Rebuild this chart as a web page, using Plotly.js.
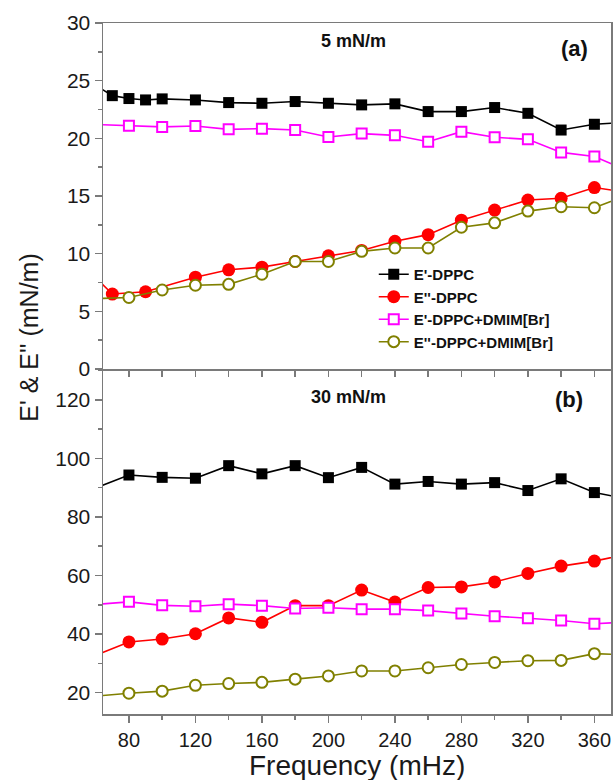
<!DOCTYPE html>
<html>
<head>
<meta charset="utf-8">
<script src="https://cdn.plot.ly/plotly-3.0.1.min.js"></script>
<style>html,body{margin:0;padding:0;background:#fff;}#chart{width:616px;height:780px;}</style>
</head>
<body>
<div id="chart"></div>
<script>
// ---- data (top panel: 5 mN/m) ----
const blackTopX = [60,70,80,90,100,120,140,160,180,200,220,240,260,280,300,320,340,360,380];
const blackTopY = [24.6,23.7,23.45,23.33,23.42,23.33,23.1,23.04,23.19,23.04,22.9,22.99,22.32,22.32,22.67,22.17,20.72,21.22,21.4];
const redTopX = [60,70,90,120,140,160,180,200,220,240,260,280,300,320,340,360,380];
const redTopY = [7.9,6.5,6.7,7.96,8.6,8.83,9.32,9.82,10.28,11.07,11.65,12.9,13.78,14.65,14.8,15.73,15.3];
const magTopX = [60,80,100,120,140,160,180,200,220,240,260,280,300,320,340,360,380];
const magTopY = [21.2,21.1,20.99,21.07,20.78,20.84,20.72,20.12,20.41,20.26,19.71,20.58,20.09,19.91,18.78,18.43,17.2];
const oliveTopX = [60,80,100,120,140,160,180,200,220,240,260,280,300,320,340,360,380];
const oliveTopY = [6.1,6.2,6.85,7.26,7.34,8.22,9.32,9.32,10.2,10.49,10.49,12.29,12.67,13.69,14.07,13.98,15.1];

// ---- data (bottom panel: 30 mN/m) ----
const botX = [60,80,100,120,140,160,180,200,220,240,260,280,300,320,340,360,380];
const blackBotY = [89.9,94.3,93.5,93.2,97.5,94.7,97.5,93.4,96.9,91.2,92.1,91.2,91.7,89.0,93.0,88.3,86.1];
const redBotY = [32.7,37.3,38.3,40.1,45.5,44.0,49.7,49.7,55.0,50.9,55.9,56.1,57.8,60.7,63.2,64.9,67.3];
const magBotY = [50.1,51.0,49.8,49.5,50.2,49.7,48.7,49.0,48.5,48.5,48.0,47.0,46.1,45.4,44.6,43.5,44.1];
const oliveBotY = [18.8,19.8,20.5,22.5,23.1,23.5,24.6,25.7,27.4,27.4,28.5,29.6,30.3,30.9,31.0,33.3,32.9];

const seriesNames = ["E'-DPPC", "E''-DPPC", "E'-DPPC+DMIM[Br]", "E''-DPPC+DMIM[Br]"];
const panelLabels = ["5 mN/m", "30 mN/m"];
const panelTags = ["(a)", "(b)"];
const xTitle = "Frequency (mHz)";
const yTitle = "E' & E'' (mN/m)";

const FONT = "Arial, 'Liberation Sans', sans-serif";
const styles = [
  {mode:'lines+markers', line:{color:'#000000', width:1.6}, marker:{symbol:'square', size:11, color:'#000000'}},
  {mode:'lines+markers', line:{color:'#ff0000', width:1.6}, marker:{symbol:'circle', size:13, color:'#ff0000'}},
  {mode:'lines+markers', line:{color:'#ff00ff', width:1.6}, marker:{symbol:'square', size:10, color:'#ffffff', line:{color:'#ff00ff', width:2}}},
  {mode:'lines+markers', line:{color:'#808000', width:1.6}, marker:{symbol:'circle', size:11, color:'#ffffff', line:{color:'#808000', width:2}}}
];

const topData = [[blackTopX, blackTopY],[redTopX, redTopY],[magTopX, magTopY],[oliveTopX, oliveTopY]];
const botData = [blackBotY, redBotY, magBotY, oliveBotY];

const traces = [];
topData.forEach((d,i)=>{
  traces.push(Object.assign({type:'scatter', x:d[0], y:d[1], xaxis:'x2', yaxis:'y', name:seriesNames[i], showlegend:true}, JSON.parse(JSON.stringify(styles[i]))));
});
botData.forEach((d,i)=>{
  traces.push(Object.assign({type:'scatter', x:botX, y:d, xaxis:'x', yaxis:'y2', name:seriesNames[i], showlegend:false}, JSON.parse(JSON.stringify(styles[i]))));
});

const axisColor = '#7a7a7a';
const tickFont = {family:FONT, size:21, color:'#1a1a1a'};
const xTickFont = {family:FONT, size:20, color:'#1a1a1a'};
const split = 346/691;

const layout = {
  width:616, height:780,
  margin:{l:103, r:5, t:23, b:66},
  paper_bgcolor:'#ffffff', plot_bgcolor:'#ffffff',
  showlegend:true,
  legend:{x:0.533, y:0.66, xanchor:'left', yanchor:'top', bgcolor:'rgba(0,0,0,0)',
          font:{family:FONT, size:15, color:'#111', weight:'bold'}, tracegroupgap:0, itemwidth:30},
  xaxis:{domain:[0,1], anchor:'y2', range:[64.4,370], showgrid:false, zeroline:false,
         showline:true, linecolor:axisColor, linewidth:1.5, mirror:false,
         ticks:'outside', ticklen:7, tickwidth:1.5, tickcolor:axisColor, tick0:0, dtick:40,
         minor:{ticks:'outside', ticklen:4, tickwidth:1.5, tickcolor:axisColor, dtick:20, tick0:0},
         tickfont:xTickFont, ticklabelstandoff:0},
  xaxis2:{domain:[0,1], anchor:'y', matches:'x', range:[64.4,370], showgrid:false, zeroline:false,
         showline:true, linecolor:axisColor, linewidth:1.5, mirror:true,
         ticks:'outside', ticklen:6, tickwidth:1.5, tickcolor:axisColor, tick0:0, dtick:20,
         showticklabels:false},
  yaxis:{domain:[1-split,1], anchor:'x2', range:[0,30], showgrid:false, zeroline:false,
         showline:true, linecolor:axisColor, linewidth:1.5, mirror:true,
         ticks:'outside', ticklen:7, tickwidth:1.5, tickcolor:axisColor, tick0:0, dtick:5,
         minor:{ticks:'outside', ticklen:4, tickwidth:1.5, tickcolor:axisColor, dtick:2.5, tick0:0},
         tickfont:tickFont},
  yaxis2:{domain:[0,1-split], anchor:'x', range:[12.7,130.5], showgrid:false, zeroline:false,
         showline:true, linecolor:axisColor, linewidth:1.5, mirror:true,
         ticks:'outside', ticklen:7, tickwidth:1.5, tickcolor:axisColor, tick0:0, dtick:20,
         minor:{ticks:'outside', ticklen:4, tickwidth:1.5, tickcolor:axisColor, dtick:10, tick0:0},
         tickfont:tickFont},
  annotations:[
    {xref:'x2', yref:'y', x:215, y:28.4, text:panelLabels[0], showarrow:false, font:{family:FONT, size:18, color:'#111', weight:'bold'}},
    {xref:'x2', yref:'y', x:348, y:27.8, text:panelTags[0], showarrow:false, font:{family:FONT, size:22, color:'#111', weight:'bold'}},
    {xref:'x', yref:'y2', x:212, y:121, text:panelLabels[1], showarrow:false, font:{family:FONT, size:18, color:'#111', weight:'bold'}},
    {xref:'x', yref:'y2', x:345, y:120, text:panelTags[1], showarrow:false, font:{family:FONT, size:22, color:'#111', weight:'bold'}},
    {xref:'paper', yref:'paper', x:0.5, y:-0.049, xanchor:'center', yanchor:'top',
     text:xTitle, showarrow:false, font:{family:FONT, size:28, color:'#1a1a1a'}},
    {xref:'paper', yref:'paper', x:-0.145, y:0.545, xanchor:'center', yanchor:'middle', textangle:-90,
     text:yTitle, showarrow:false, font:{family:FONT, size:25, color:'#1a1a1a'}}
  ]
};

Plotly.newPlot('chart', traces, layout, {displayModeBar:false, staticPlot:true});
</script>
</body>
</html>
